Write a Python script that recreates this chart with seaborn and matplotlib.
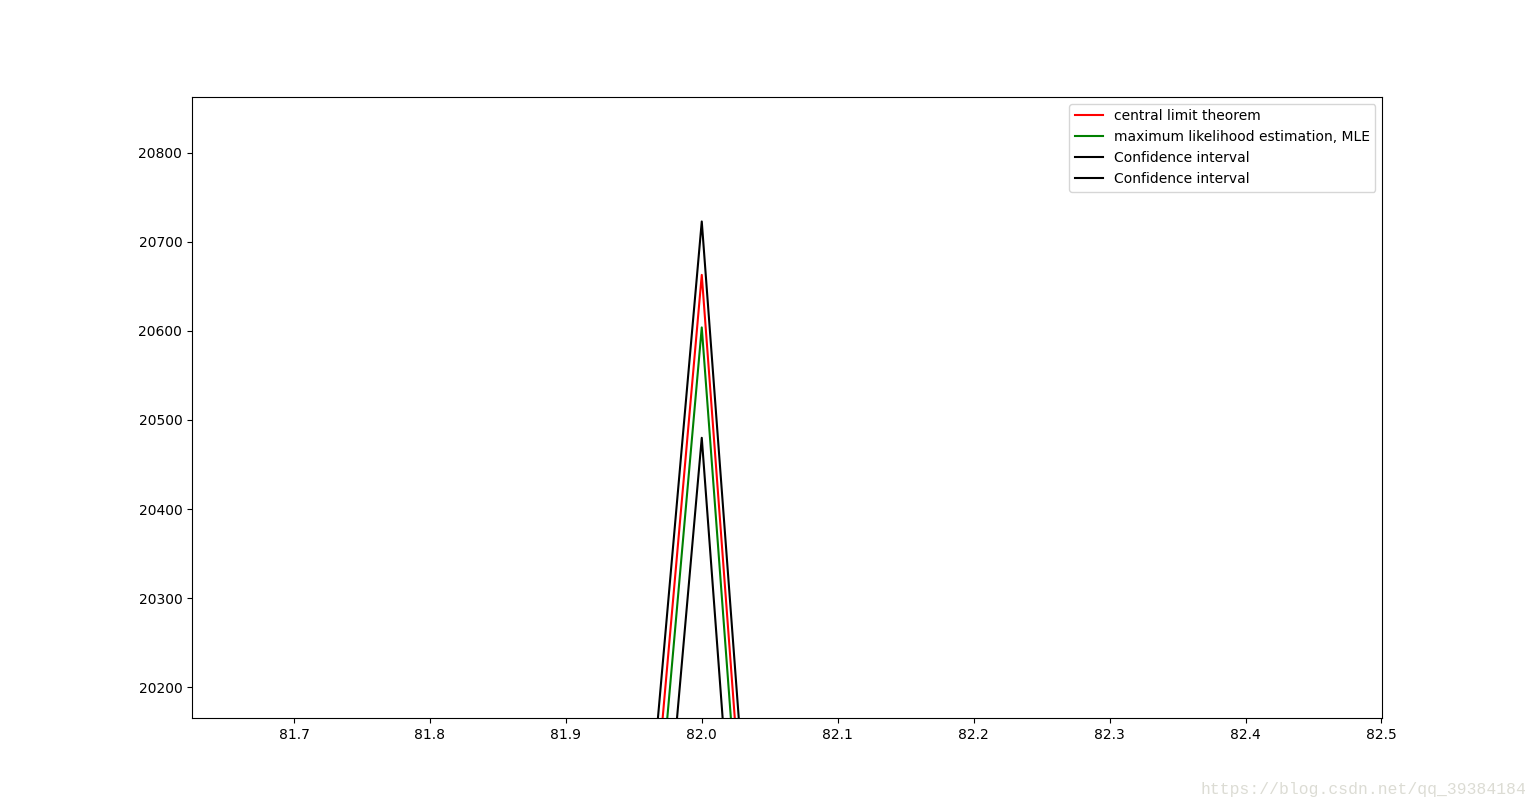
import matplotlib
matplotlib.use('Agg')
import matplotlib.pyplot as plt
import seaborn as sns

# data (only the peak at 82 is in view)
x = [81, 82, 83]
clt = [3363, 20663, 163]
mle = [3304, 20604, 104]
ci_upper = [3424, 20723, 224]
ci_lower = [3181, 20480, -19]

fig = plt.figure(figsize=(15.36, 8.07), dpi=100)
ax = fig.add_subplot(111)

sns.lineplot(x=x, y=clt, color='red', label='central limit theorem', ax=ax)
sns.lineplot(x=x, y=mle, color='green', label='maximum likelihood estimation, MLE', ax=ax)
sns.lineplot(x=x, y=ci_upper, color='black', label='Confidence interval', ax=ax)
sns.lineplot(x=x, y=ci_lower, color='black', label='Confidence interval', ax=ax)

ax.set_xlim(81.625, 82.5007)
ax.set_ylim(20165, 20863)
ax.set_xticks([81.7, 81.8, 81.9, 82.0, 82.1, 82.2, 82.3, 82.4, 82.5])
ax.set_yticks([20200, 20300, 20400, 20500, 20600, 20700, 20800])
ax.legend(loc='upper right')

fig.text(0.9935, 0.013, 'https://blog.csdn.net/qq_39384184', ha='right', va='bottom',
         fontsize=11.8, family='Liberation Mono', color='#dcdcd4')

fig.savefig('out.png', dpi=100)
